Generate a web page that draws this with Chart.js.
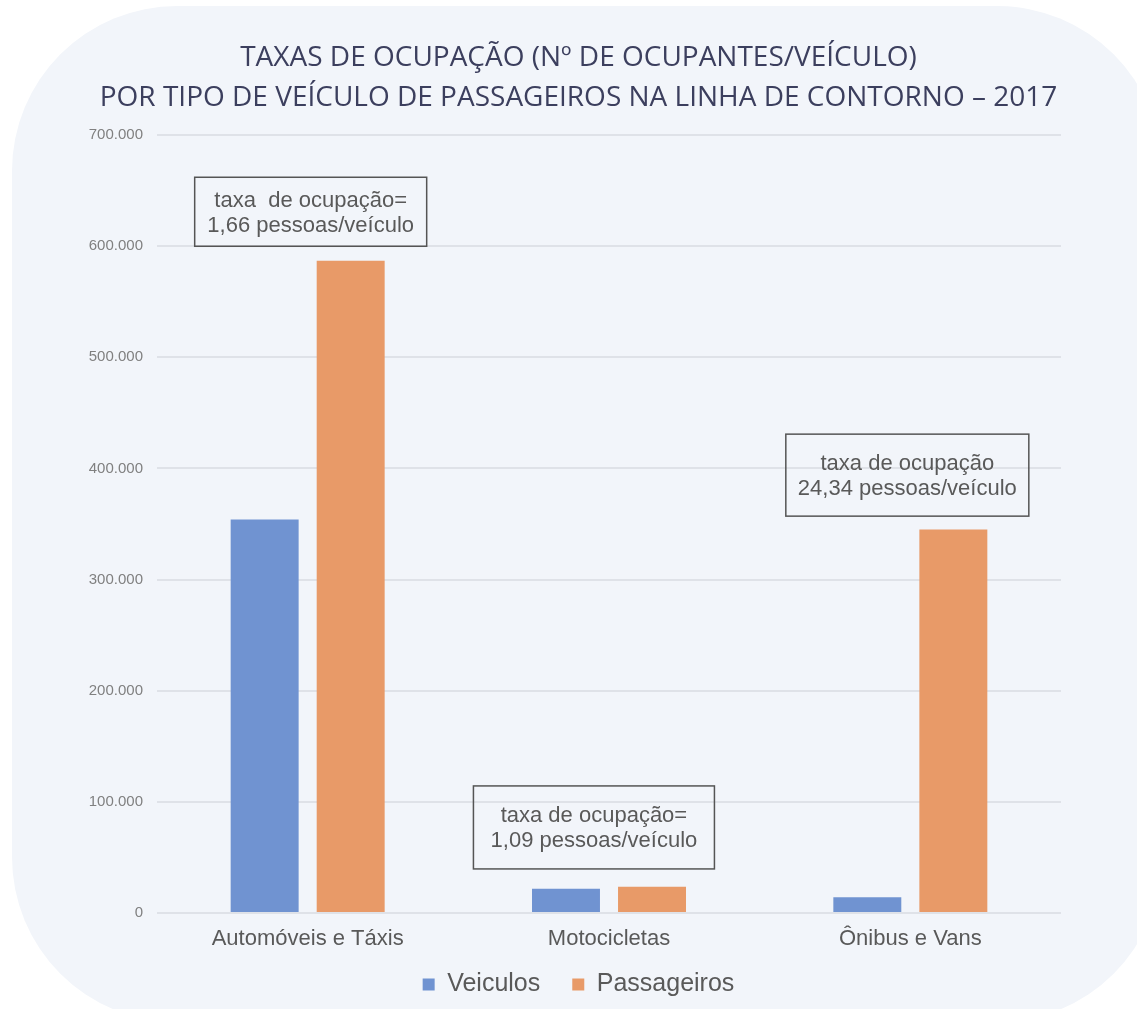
<!DOCTYPE html>
<html>
<head>
<meta charset="utf-8">
<script src="https://cdn.jsdelivr.net/npm/chart.js@4.4.1/dist/chart.umd.min.js"></script>
<style>
  html, body { margin: 0; padding: 0; background: #fff; overflow: hidden; }
  #bg { position: absolute; left: 12px; top: 6px; width: 1150px; height: 1016px; background: #F2F5FA; border-radius: 165px; }
  #wrap { position: absolute; left: 0; top: 0; width: 1137px; height: 1009px; }
</style>
</head>
<body>
<div id="bg"></div>
<div id="wrap"><canvas id="chart" width="1137" height="1009"></canvas></div>
<script>
const categories = ['Automóveis e Táxis', 'Motocicletas', 'Ônibus e Vans'];
const veiculos = [354000, 21800, 14200];
const passageiros = [587000, 23700, 345000];
const yTickLabels = ['0', '100.000', '200.000', '300.000', '400.000', '500.000', '600.000', '700.000'];
const noteLines = [
    ['taxa  de ocupação=', '1,66 pessoas/veículo'],
    ['taxa de ocupação=', '1,09 pessoas/veículo'],
    ['taxa de ocupação', '24,34 pessoas/veículo']
];

// where each note box sits, in data units (category index, value)
const noteAnchors = [
    { cat: 0.01, val: 631000, w: 232, h: 69 },
    { cat: 0.95, val: 77000, w: 241, h: 83 },
    { cat: 1.99, val: 394000, w: 243, h: 82 }
];

const notes = {
    id: 'notes',
    afterDatasetsDraw(chart) {
        const { ctx, scales: { x, y } } = chart;
        const step = x.getPixelForValue(1) - x.getPixelForValue(0);
        ctx.save();
        noteAnchors.forEach((a, i) => {
            const cx = x.getPixelForValue(0) + a.cat * step;
            const cy = y.getPixelForValue(a.val);
            ctx.strokeStyle = '#555555';
            ctx.lineWidth = 1.5;
            ctx.strokeRect(cx - a.w / 2, cy - a.h / 2, a.w, a.h);
            ctx.fillStyle = '#595959';
            ctx.font = '22px "Liberation Sans", Arial, sans-serif';
            ctx.textAlign = 'center';
            ctx.textBaseline = 'middle';
            ctx.fillText(noteLines[i][0], cx, cy - 11);
            ctx.fillText(noteLines[i][1], cx, cy + 14);
        });
        ctx.restore();
    }
};

// legend keeps a wide gap between items but sits a bit higher than its box
const legendFit = {
    id: 'legendFit',
    afterInit(chart) {
        const lg = chart.legend;
        const fit = lg.fit;
        lg.fit = function () { fit.call(this); this.height = 56; };
    },
    afterLayout(chart) {
        chart.legend.top -= 13;
        chart.legend.bottom -= 13;
    }
};

new Chart(document.getElementById('chart'), {
    type: 'bar',
    data: {
        labels: categories,
        datasets: [
            { label: 'Veiculos', data: veiculos, backgroundColor: '#7093D1' },
            { label: 'Passageiros', data: passageiros, backgroundColor: '#E89A68' }
        ]
    },
    options: {
        responsive: false,
        animation: false,
        layout: { padding: { left: 20, right: 0, top: 0, bottom: 0 } },
        datasets: { bar: { categoryPercentage: 0.571, barPercentage: 0.79 } },
        scales: {
            x: {
                grid: { display: false, drawTicks: false },
                border: { display: false },
                ticks: { color: '#595959', font: { family: '"Liberation Sans", Arial, sans-serif', size: 22 }, padding: 13 },
                afterFit: s => { s.height = 40; }
            },
            y: {
                min: 0, max: 700000,
                grid: { color: '#DFE2E8', lineWidth: 2, drawTicks: false },
                border: { display: false },
                ticks: {
                    stepSize: 100000,
                    color: '#808080',
                    font: { family: '"Liberation Sans", Arial, sans-serif', size: 15 },
                    padding: 14,
                    callback: (v, i) => yTickLabels[i]
                },
                afterFit: s => { s.width = 137; }
            },
            yR: {
                position: 'right', min: 0, max: 1,
                grid: { display: false, drawTicks: false },
                border: { display: false },
                ticks: { display: false },
                afterFit: s => { s.width = 76; }
            }
        },
        plugins: {
            title: {
                display: true,
                text: ['TAXAS DE OCUPAÇÃO (Nº DE OCUPANTES/VEÍCULO)', 'POR TIPO DE VEÍCULO DE PASSAGEIROS NA LINHA DE CONTORNO – 2017'],
                color: '#3C3F5E',
                font: { family: '"Open Sans", sans-serif', size: 28, weight: 'normal', lineHeight: 1.43 },
                padding: { top: 38, bottom: 17 }
            },
            legend: {
                position: 'bottom',
                labels: {
                    boxWidth: 12, boxHeight: 12, padding: 32,
                    color: '#595959',
                    font: { family: '"Liberation Sans", Arial, sans-serif', size: 25 }
                }
            },
            tooltip: { enabled: false }
        }
    },
    plugins: [notes, legendFit]
});
</script>
</body>
</html>
